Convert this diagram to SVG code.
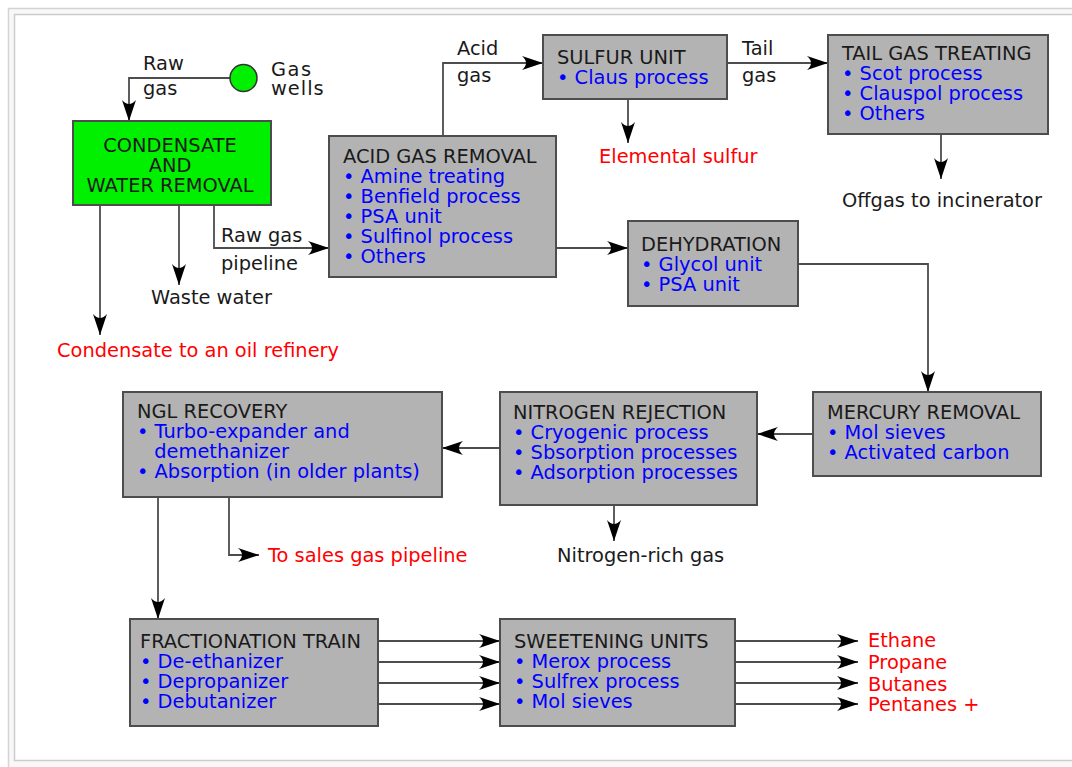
<svg xmlns="http://www.w3.org/2000/svg" width="1072" height="767" viewBox="0 0 1072 767">
<style>
text{font-family:"DejaVu Sans","Liberation Sans",sans-serif;font-size:19.4px;fill:#1a1a1a}
.b{fill:#0000ff}
.r{fill:#ff0000}
.box{fill:#b3b3b3;stroke:#4d4d4d;stroke-width:2}
.c{fill:none;stroke:#4d4d4d;stroke-width:1.8;marker-end:url(#arr)}
</style>
<defs>
<marker id="arr" markerUnits="userSpaceOnUse" viewBox="-22 -8 23 16" refX="0" refY="0" markerWidth="23" markerHeight="16" orient="auto">
<path d="M0,0 L-21,-7 Q-13,0 -21,7 Z" fill="#000"/>
</marker>
</defs>
<rect x="8.5" y="8.5" width="1100" height="800" fill="#f8f8f8" stroke="#d4d4d4" stroke-width="1.5"/>
<rect x="14.5" y="14.5" width="1100" height="746" fill="#ffffff" stroke="#cccccc" stroke-width="1.5"/>

<g id="connectors">
<path class="c" d="M230,78 H129 V121"/>
<path class="c" d="M100,205 V335"/>
<path class="c" d="M179,205 V285"/>
<path class="c" d="M214,205 V248 H329"/>
<path class="c" d="M443,136 V63 H543"/>
<path class="c" d="M628,99 V143"/>
<path class="c" d="M727,63 H828"/>
<path class="c" d="M941,134 V179"/>
<path class="c" d="M556,248 H628"/>
<path class="c" d="M798,264 H928 V392"/>
<path class="c" d="M813,434 H757"/>
<path class="c" d="M500,448 H442"/>
<path class="c" d="M614,505 V541"/>
<path class="c" d="M158,497 V619"/>
<path class="c" d="M229,497 V555 H259"/>
<path class="c" d="M378,641 H500"/>
<path class="c" d="M378,662 H500"/>
<path class="c" d="M378,683 H500"/>
<path class="c" d="M378,704 H500"/>
<path class="c" d="M735,641 H858"/>
<path class="c" d="M735,662 H858"/>
<path class="c" d="M735,683 H858"/>
<path class="c" d="M735,704 H858"/>
</g>

<g id="connector-labels">
<text x="143" y="70">Raw<tspan x="143" dy="25">gas</tspan></text>
<text x="221" y="242">Raw gas<tspan x="221" dy="28">pipeline</tspan></text>
<text x="457" y="55">Acid<tspan x="457" dy="27">gas</tspan></text>
<text x="742" y="55">Tail<tspan x="742" dy="27">gas</tspan></text>
</g>

<g id="gas-wells">
<circle cx="243.5" cy="78" r="13.5" fill="#00f000" stroke="#333" stroke-width="1.5"/>
<text x="271" y="76" letter-spacing="1.5">Gas<tspan x="271" dy="19" letter-spacing="1">wells</tspan></text>
</g>

<g id="condensate-water-removal">
<rect x="73" y="121" width="198" height="84" fill="#00f000" stroke="#4d4d4d" stroke-width="2"/>
<text x="170" y="152" text-anchor="middle">CONDENSATE<tspan x="170" dy="20">AND</tspan><tspan x="170" dy="20">WATER REMOVAL</tspan></text>
</g>

<g id="acid-gas-removal">
<rect class="box" x="329" y="136" width="227" height="141"/>
<text x="343" y="163">ACID GAS REMOVAL<tspan class="b" x="343" dy="20">• Amine treating</tspan><tspan class="b" x="343" dy="20">• Benfield process</tspan><tspan class="b" x="343" dy="20">• PSA unit</tspan><tspan class="b" x="343" dy="20">• Sulfinol process</tspan><tspan class="b" x="343" dy="20">• Others</tspan></text>
</g>

<g id="sulfur-unit">
<rect class="box" x="543" y="35" width="184" height="64"/>
<text x="557" y="64">SULFUR UNIT<tspan class="b" x="557" dy="20">• Claus process</tspan></text>
</g>

<g id="tail-gas-treating">
<rect class="box" x="828" y="35" width="220" height="99"/>
<text x="842" y="60">TAIL GAS TREATING<tspan class="b" x="842" dy="20">• Scot process</tspan><tspan class="b" x="842" dy="20">• Clauspol process</tspan><tspan class="b" x="842" dy="20">• Others</tspan></text>
</g>

<g id="dehydration">
<rect class="box" x="628" y="221" width="170" height="85"/>
<text x="641" y="251">DEHYDRATION<tspan class="b" x="641" dy="20">• Glycol unit</tspan><tspan class="b" x="641" dy="20">• PSA unit</tspan></text>
</g>

<g id="mercury-removal">
<rect class="box" x="813" y="392" width="228" height="84"/>
<text x="827" y="419">MERCURY REMOVAL<tspan class="b" x="827" dy="20">• Mol sieves</tspan><tspan class="b" x="827" dy="20">• Activated carbon</tspan></text>
</g>

<g id="nitrogen-rejection">
<rect class="box" x="500" y="392" width="257" height="113"/>
<text x="513" y="419">NITROGEN REJECTION<tspan class="b" x="513" dy="20">• Cryogenic process</tspan><tspan class="b" x="513" dy="20">• Sbsorption processes</tspan><tspan class="b" x="513" dy="20">• Adsorption processes</tspan></text>
</g>

<g id="ngl-recovery">
<rect class="box" x="123" y="392" width="319" height="105"/>
<text x="137" y="418">NGL RECOVERY<tspan class="b" x="137" dy="20">• Turbo-expander and</tspan><tspan class="b" x="154.3" dy="20">demethanizer</tspan><tspan class="b" x="137" dy="20">• Absorption (in older plants)</tspan></text>
</g>

<g id="fractionation-train">
<rect class="box" x="130" y="619" width="248" height="107"/>
<text x="140" y="648">FRACTIONATION TRAIN<tspan class="b" x="140" dy="20">• De-ethanizer</tspan><tspan class="b" x="140" dy="20">• Depropanizer</tspan><tspan class="b" x="140" dy="20">• Debutanizer</tspan></text>
</g>

<g id="sweetening-units">
<rect class="box" x="500" y="619" width="235" height="107"/>
<text x="514" y="648">SWEETENING UNITS<tspan class="b" x="514" dy="20">• Merox process</tspan><tspan class="b" x="514" dy="20">• Sulfrex process</tspan><tspan class="b" x="514" dy="20">• Mol sieves</tspan></text>
</g>

<g id="outputs">
<text class="r" x="57" y="357">Condensate to an oil refinery</text>
<text x="151" y="304">Waste water</text>
<text class="r" x="599" y="163">Elemental sulfur</text>
<text x="842" y="207">Offgas to incinerator</text>
<text x="557" y="562">Nitrogen-rich gas</text>
<text class="r" x="268" y="562">To sales gas pipeline</text>
<text class="r" x="868" y="647">Ethane<tspan x="868" dy="22">Propane</tspan><tspan x="868" dy="22">Butanes</tspan><tspan x="868" dy="20">Pentanes +</tspan></text>
</g>
</svg>
